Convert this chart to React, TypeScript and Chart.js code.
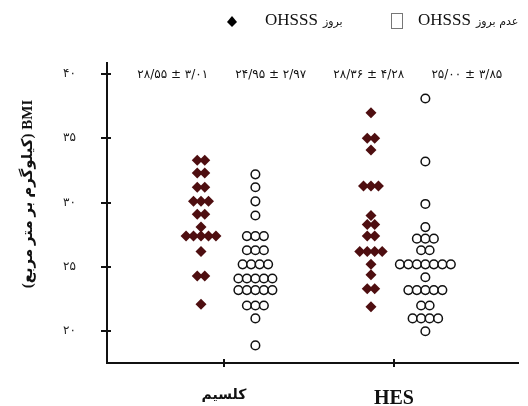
import { useEffect, useRef } from "react";
import { Chart, registerables } from "chart.js";

Chart.register(...registerables);

const categories = ["كلسيم", "HES"];
const yTickValues = [20, 25, 30, 35, 40];

// BMI values (OHSSS = diamonds, no OHSSS = circles)
const calciumOhsss = [
  33.3, 33.3, 32.3, 32.3, 31.2, 31.2, 30.1, 30.1, 30.1, 29.1, 29.1, 28.1,
  27.4, 27.4, 27.4, 27.4, 27.4, 26.2, 24.3, 24.3, 22.1,
];
const calciumNoOhsss = [
  32.2, 31.2, 30.1, 29.0, 27.4, 27.4, 27.4, 26.3, 26.3, 26.3, 25.2, 25.2,
  25.2, 25.2, 24.1, 24.1, 24.1, 24.1, 24.1, 23.2, 23.2, 23.2, 23.2, 23.2,
  22.0, 22.0, 22.0, 21.0, 18.9,
];
const hesOhsss = [
  37.0, 35.0, 35.0, 34.1, 31.3, 31.3, 31.3, 29.0, 28.3, 28.3, 27.4, 27.4,
  26.2, 26.2, 26.2, 26.2, 25.2, 24.4, 23.3, 23.3, 21.9,
];
const hesNoOhsss = [
  38.1, 33.2, 29.9, 28.1, 27.2, 27.2, 27.2, 26.3, 26.3, 25.2, 25.2, 25.2,
  25.2, 25.2, 25.2, 25.2, 24.2, 23.2, 23.2, 23.2, 23.2, 23.2, 22.0, 22.0,
  21.0, 21.0, 21.0, 21.0, 20.0,
];

const groupMeans = [28.55, 24.95, 28.36, 25.0];
const groupSds = [3.01, 2.97, 4.28, 3.85];

const legendLatin = "OHSSS";
const legendArabic = ["بروز", "عدم بروز"];
const yTitle = "(کیلوگرم بر متر مربع) BMI";

const SERIF = "'Liberation Serif', 'DejaVu Sans', serif";
const ARAB = "'DejaVu Sans', sans-serif";
const MAROON = "#4e0e10";

function toPersian(s: string) {
  return s.replace(/[0-9]/g, (d) => "۰۱۲۳۴۵۶۷۸۹"[Number(d)]);
}
function fmt(n: number) {
  return toPersian(n.toFixed(2).replace(".", "/"));
}

function swarm(values: number[], center: number, spacing: number) {
  const counts = new Map<number, number>();
  values.forEach((v) => counts.set(v, (counts.get(v) || 0) + 1));
  const seen = new Map<number, number>();
  return values.map((v) => {
    const n = counts.get(v) || 1;
    const k = seen.get(v) || 0;
    seen.set(v, k + 1);
    return { x: center + (k - (n - 1) / 2) * spacing, y: v };
  });
}

const overlay = {
  id: "overlay",
  afterDraw(chart: any) {
    const { ctx, chartArea, scales } = chart;
    const { left, right, bottom } = chartArea;
    const w = right - left;
    ctx.save();
    ctx.strokeStyle = "#111";
    ctx.lineWidth = 2;
    yTickValues.forEach((v) => {
      const y = Math.round(scales.y.getPixelForValue(v));
      ctx.beginPath();
      ctx.moveTo(left - 6, y);
      ctx.lineTo(left + 4, y);
      ctx.stroke();
    });
    categories.forEach((_, i) => {
      const x = Math.round(scales.x.getPixelForValue(i));
      ctx.beginPath();
      ctx.moveTo(x, bottom - 4);
      ctx.lineTo(x, bottom + 4);
      ctx.stroke();
    });

    // y title
    ctx.save();
    ctx.translate(28, 194);
    ctx.rotate(-Math.PI / 2);
    ctx.fillStyle = "#111";
    ctx.font = `bold 15px ${SERIF}`;
    ctx.textAlign = "center";
    ctx.textBaseline = "middle";
    ctx.fillText(yTitle, 0, 0);
    ctx.restore();

    // group summary labels
    ctx.fillStyle = "#111";
    ctx.font = `12px ${ARAB}`;
    ctx.textAlign = "center";
    ctx.textBaseline = "middle";
    groupMeans.forEach((m, i) => {
      const x = left + w * (0.16 + 0.2385 * i);
      ctx.fillText(`${fmt(m)} ± ${fmt(groupSds[i])}`, x, 75);
    });

    // legend
    const ly = 21;
    ctx.fillStyle = "#000";
    ctx.beginPath();
    ctx.moveTo(232, ly - 5);
    ctx.lineTo(237, ly + 1);
    ctx.lineTo(232, ly + 6);
    ctx.lineTo(227, ly + 1);
    ctx.closePath();
    ctx.fill();
    ctx.strokeStyle = "#777";
    ctx.lineWidth = 1;
    ctx.strokeRect(391.5, 13.5, 11, 15);

    ctx.textAlign = "left";
    ctx.textBaseline = "middle";
    const items = [265, 418];
    items.forEach((x0, i) => {
      ctx.font = `17px ${SERIF}`;
      ctx.fillStyle = "#111";
      ctx.fillText(legendLatin, x0, ly);
      const tw = ctx.measureText(legendLatin).width;
      ctx.font = `11px ${ARAB}`;
      ctx.fillText(legendArabic[i], x0 + tw + 5, ly + 1);
    });
    ctx.restore();
  },
};

export default function App() {
  const ref = useRef<HTMLCanvasElement | null>(null);
  useEffect(() => {
    if (!ref.current) return;
    const dOff = -0.135;
    const cOff = 0.185;
    const dSp = 0.044;
    const cSp = 0.05;
    const diamond = {
      pointStyle: "rectRot",
      pointRadius: 5.5,
      pointBackgroundColor: MAROON,
      pointBorderColor: MAROON,
      pointBorderWidth: 0,
      showLine: false,
    };
    const circle = {
      pointStyle: "circle",
      pointRadius: 4.3,
      pointBackgroundColor: "#ffffff",
      pointBorderColor: "#111",
      pointBorderWidth: 1.5,
      showLine: false,
    };
    const chart = new Chart(ref.current, {
      type: "scatter",
      data: {
        datasets: [
          { label: "calcium OHSSS", data: swarm(calciumOhsss, 0 + dOff, dSp), ...diamond },
          { label: "calcium no OHSSS", data: swarm(calciumNoOhsss, 0 + cOff, cSp), ...circle },
          { label: "HES OHSSS", data: swarm(hesOhsss, 1 + dOff, dSp), ...diamond },
          { label: "HES no OHSSS", data: swarm(hesNoOhsss, 1 + cOff, cSp), ...circle },
        ] as any,
      },
      options: {
        animation: false,
        responsive: false,
        devicePixelRatio: 1,
        layout: { padding: { left: 0, top: 63, right: 10, bottom: 0 } },
        plugins: { legend: { display: false }, tooltip: { enabled: false } },
        scales: {
          x: {
            type: "linear",
            min: -0.688,
            max: 1.73,
            afterFit: (s: any) => {
              s.height = 43;
            },
            afterBuildTicks: (s: any) => {
              s.ticks = categories.map((_, i) => ({ value: i }));
            },
            grid: { display: false, drawTicks: false },
            border: { display: true, color: "#111", width: 2 },
            ticks: {
              padding: 24,
              color: "#111",
              maxRotation: 0,
              autoSkip: false,
              font: (c: any) =>
                c.index === 0
                  ? { family: ARAB, size: 14, weight: "bold" }
                  : { family: SERIF, size: 20, weight: "bold" },
              callback: (_v: any, i: number) => categories[i],
            },
          },
          y: {
            type: "linear",
            min: 17.53,
            max: 40.86,
            afterFit: (s: any) => {
              s.width = 107;
            },
            afterBuildTicks: (s: any) => {
              s.ticks = yTickValues.map((v) => ({ value: v }));
            },
            grid: { display: false, drawTicks: false },
            border: { display: true, color: "#111", width: 2 },
            ticks: {
              padding: 31,
              color: "#222",
              font: { family: ARAB, size: 12 },
              callback: (v: any) => toPersian(String(v)),
            },
          },
        },
      },
      plugins: [overlay],
    } as any);
    return () => chart.destroy();
  }, []);
  return (
    <div style={{ position: "absolute", left: 0, top: 0, width: 528, height: 406, background: "#fff" }}>
      <canvas ref={ref} width={528} height={406} />
    </div>
  );
}
